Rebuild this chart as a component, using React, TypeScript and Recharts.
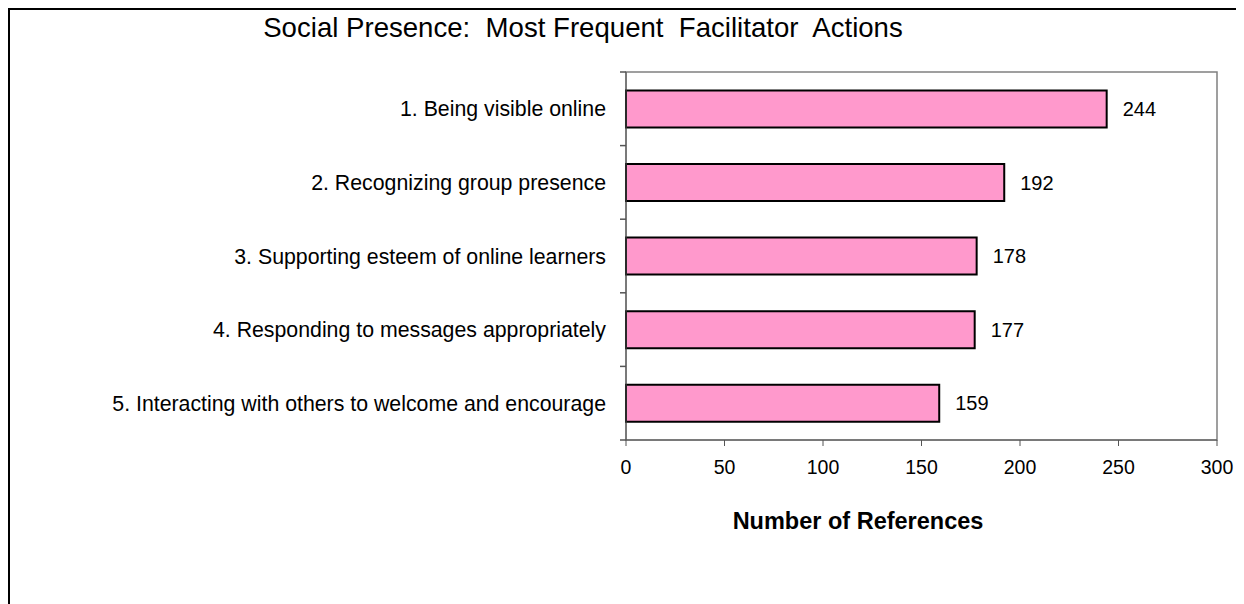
import { BarChart, Bar, XAxis, YAxis, LabelList, ReferenceArea } from 'recharts';

const categories = [
  '1. Being visible online',
  '2. Recognizing group presence',
  '3. Supporting esteem of online learners',
  '4. Responding to messages appropriately',
  '5. Interacting with others to welcome and encourage',
];
const references = [244, 192, 178, 177, 159];
const xTicks = [0, 50, 100, 150, 200, 250, 300];

const data = categories.map((name, i) => ({ name, value: references[i] }));

const FONT = '"Liberation Sans", Arial, sans-serif';
const AXIS = '#555';

// Excel puts the category tick marks between the bars, not on them,
// so the tick draws its label at the band centre and a mark at the band edge.
function CategoryTick(props: any) {
  const { x, y, payload, index, visibleTicksCount } = props;
  const half = payload?.offset ?? 0;
  const axisX = x + 20;
  const last = index === visibleTicksCount - 1;
  return (
    <g>
      <line x1={axisX - 6} x2={axisX} y1={y - half} y2={y - half} stroke={AXIS} strokeWidth={1.5} />
      {last && (
        <line x1={axisX - 6} x2={axisX} y1={y + half} y2={y + half} stroke={AXIS} strokeWidth={1.5} />
      )}
      <text
        x={x}
        y={y}
        dy="0.355em"
        textAnchor="end"
        fill="#000"
        fontSize={21.3}
        fontFamily={FONT}
      >
        {payload.value}
      </text>
    </g>
  );
}

export default function App() {
  return (
    <div
      style={{
        position: 'relative',
        width: 1234,
        height: 594,
        borderTop: '2px solid #000',
        borderLeft: '2px solid #000',
        fontFamily: FONT,
        background: '#fff',
      }}
    >
      <div
        style={{
          position: 'absolute',
          left: 0,
          width: 1146,
          top: 2,
          textAlign: 'center',
          fontSize: 27.6,
          whiteSpace: 'pre',
          color: '#000',
        }}
      >
        {'Social Presence:  Most Frequent  Facilitator  Actions'}
      </div>
      <div
        style={{
          position: 'absolute',
          left: 0,
          width: 1696,
          top: 498,
          textAlign: 'center',
          fontSize: 23.5,
          fontWeight: 'bold',
          color: '#000',
        }}
      >
        Number of References
      </div>
      <BarChart
        width={1234}
        height={594}
        data={data}
        layout="vertical"
        barCategoryGap="25%"
        margin={{ top: 62, right: 27, left: 0, bottom: 124 }}
        style={{ position: 'absolute', left: 0, top: 0 }}
      >
        <ReferenceArea
          x1={0}
          x2={300}
          fill="none"
          stroke="#808080"
          strokeWidth={1.5}
          ifOverflow="visible"
        />
        <XAxis
          type="number"
          domain={[0, 300]}
          ticks={xTicks}
          interval={0}
          height={40}
          stroke={AXIS}
          tickSize={6}
          tickMargin={14}
          tick={{ fill: '#000', fontSize: 19.5, fontFamily: FONT }}
        />
        <YAxis
          type="category"
          dataKey="name"
          width={616}
          stroke={AXIS}
          tickLine={false}
          tickMargin={14}
          interval={0}
          tick={<CategoryTick />}
        />
        <Bar
          dataKey="value"
          fill="#FF99CC"
          stroke="#000"
          strokeWidth={2}
          isAnimationActive={false}
        >
          <LabelList
            dataKey="value"
            position="right"
            offset={16}
            fill="#000"
            fontSize={20}
            fontFamily={FONT}
          />
        </Bar>
      </BarChart>
    </div>
  );
}
